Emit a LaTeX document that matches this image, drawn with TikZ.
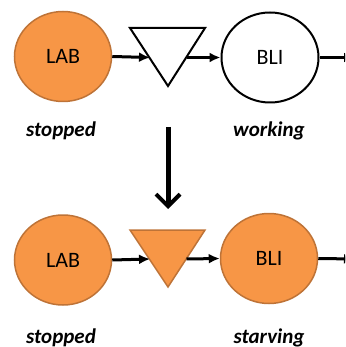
\documentclass[tikz,border=0pt]{standalone}
\usepackage{fontspec}
\setmainfont{Carlito}
\usetikzlibrary{shapes.geometric,arrows.meta}
\definecolor{orfill}{RGB}{247,150,70}
\definecolor{ordraw}{RGB}{190,115,55}
\tikzset{
  proc/.style={ellipse, inner sep=0pt, minimum width=97pt, minimum height=90pt, font=\fontsize{22}{24}\selectfont},
  procon/.style={proc, fill=orfill, draw=ordraw, line width=1.5pt},
  procoff/.style={proc, fill=white, draw=black, line width=2pt},
  flow/.style={line width=3pt, -{Latex[length=11pt,width=10pt]}},
  state/.style={font=\fontsize{21}{23}\selectfont\bfseries\itshape, anchor=base},
  bufoff/.style={draw=black, fill=white, line width=2pt, line join=miter},
  bufon/.style={draw=ordraw, fill=orfill, line width=1.5pt, line join=miter},
  change/.style={line width=5pt, -{Straight Barb[length=12pt,width=24pt,line width=4pt]}}
}
\begin{document}
\begin{tikzpicture}[x=1pt,y=-1pt]
\useasboundingbox (0,0) rectangle (345,347);
\clip (0,0) rectangle (345,347);
% top row
\node[procon] (lab1) at (63,56.5) {LAB};
\node[procoff] (bli1) at (270,57.5) {BLI};
\draw[bufoff] (130,28) -- (205,28) -- (168,86) -- cycle;
\coordinate (t1l) at (150,57.5);
\coordinate (t1r) at (186.5,57.5);
\coordinate (out1) at (355,57.5);
\draw[flow] (lab1.east) -- (t1l);
\draw[flow] (t1r) -- (bli1.west);
\draw[flow] (bli1.east) -- (out1);
\node[state] (s1) at (61,137) {stopped};
\node[state] (w1) at (269,137) {working};
% change arrow
\coordinate (d1) at (168,127);
\coordinate (d2) at (168,209);
\draw[change] (d1) -- (d2);
% bottom row
\node[procon] (lab2) at (63,260) {LAB};
\node[procon] (bli2) at (269,258.5) {BLI};
\draw[bufon] (130,230) -- (205,230) -- (168,287) -- cycle;
\coordinate (t2l) at (150,259);
\coordinate (t2r) at (186.5,259);
\coordinate (out2) at (355,259);
\draw[flow] (lab2.east) -- (t2l);
\draw[flow] (t2r) -- (bli2.west);
\draw[flow] (bli2.east) -- (out2);
\node[state] (s2) at (61,343) {stopped};
\node[state] (w2) at (269,343) {starving};
\end{tikzpicture}
\end{document}
